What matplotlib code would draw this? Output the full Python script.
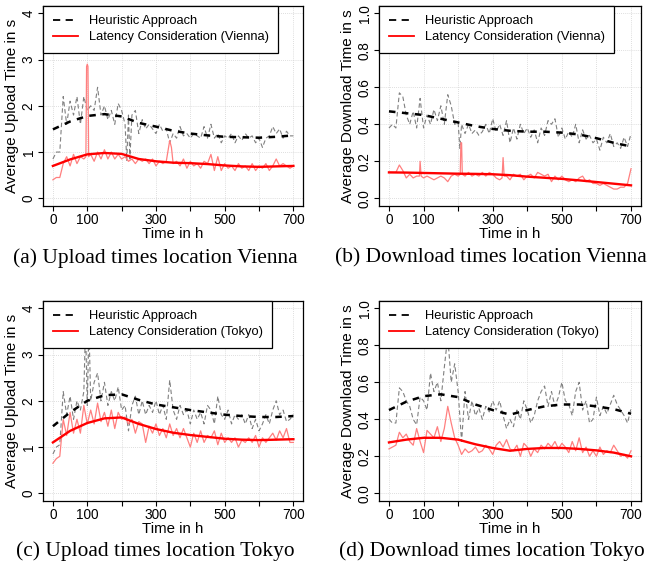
import matplotlib
matplotlib.use("Agg")
import matplotlib.pyplot as plt
from matplotlib.lines import Line2D
import numpy as np

plt.rcParams['font.family'] = ['Liberation Sans', 'DejaVu Sans']

# ---------------- data ----------------
hours = list(range(0, 701, 10))
smooth_hours = list(range(0, 701, 50))

# (a) upload Vienna
a_heur = [0.85, 1.0, 1.0, 2.2, 1.6, 2.1, 1.8, 2.2, 1.6, 2.2, 1.9, 2.0, 1.9, 2.4, 1.8, 2.0, 1.7, 1.9, 1.6, 2.05,
          1.9, 1.6, 1.8, 1.8, 1.9, 1.4, 1.7, 1.5, 1.6, 1.5, 1.4, 1.6, 1.45, 1.5, 1.2, 1.4, 1.3, 1.55, 1.35, 1.4,
          1.3, 1.4, 1.35, 1.3, 1.55, 1.3, 1.6, 1.3, 1.4, 1.2, 1.35, 1.3, 1.4, 1.2, 1.35, 1.25, 1.4, 1.3, 1.35, 1.2,
          1.3, 1.1, 1.3, 1.35, 1.55, 1.4, 1.5, 1.3, 1.45, 1.35, 1.35]
a_heur_extra_t = [215, 224]
a_heur_extra_v = [0.82, 0.85]
a_lat = [0.4, 0.45, 0.45, 0.75, 0.9, 0.7, 0.95, 0.75, 0.9, 0.85, 2.9, 0.95, 0.8, 1.0, 0.85, 1.05, 0.85, 1.0, 0.85, 0.95,
         0.85, 0.9, 0.8, 0.85, 0.75, 0.85, 0.8, 0.85, 0.75, 0.85, 0.7, 0.8, 0.75, 0.8, 1.25, 0.75, 0.8, 0.7, 0.85, 0.65,
         0.8, 0.7, 0.75, 0.65, 0.8, 0.75, 0.95, 0.6, 0.9, 0.6, 0.75, 0.65, 0.7, 0.6, 0.75, 0.65, 0.7, 0.6, 0.75, 0.6,
         0.7, 0.65, 0.75, 0.6, 0.7, 0.85, 0.7, 0.75, 0.7, 0.65, 0.7]
a_lat_extra_t = [96, 98, 102, 104, 345]
a_lat_extra_v = [0.9, 2.85, 2.85, 0.9, 1.1]
a_heur_smooth = [1.49, 1.66, 1.78, 1.82, 1.77, 1.63, 1.55, 1.46, 1.40, 1.36, 1.33, 1.32, 1.31, 1.33, 1.36]
a_lat_smooth = [0.70, 0.84, 0.95, 0.98, 0.96, 0.85, 0.80, 0.77, 0.76, 0.74, 0.71, 0.69, 0.68, 0.69, 0.70]

# (b) download Vienna
b_heur = [0.38, 0.40, 0.38, 0.57, 0.55, 0.45, 0.40, 0.47, 0.38, 0.54, 0.38, 0.45, 0.40, 0.48, 0.42, 0.50, 0.40, 0.56, 0.50, 0.40,
          0.41, 0.40, 0.35, 0.40, 0.35, 0.37, 0.34, 0.36, 0.40, 0.35, 0.43, 0.36, 0.40, 0.34, 0.42, 0.30, 0.38, 0.32, 0.40, 0.35,
          0.38, 0.33, 0.37, 0.30, 0.38, 0.34, 0.42, 0.40, 0.43, 0.33, 0.38, 0.32, 0.36, 0.33, 0.40, 0.30, 0.37, 0.32, 0.34, 0.30,
          0.32, 0.26, 0.33, 0.30, 0.35, 0.28, 0.30, 0.27, 0.33, 0.28, 0.35]
b_heur_extra_t = [205]
b_heur_extra_v = [0.27]
b_lat = [0.14, 0.14, 0.14, 0.18, 0.15, 0.11, 0.13, 0.11, 0.12, 0.20, 0.11, 0.12, 0.11, 0.10, 0.11, 0.12, 0.11, 0.09, 0.12, 0.13,
         0.12, 0.30, 0.12, 0.14, 0.12, 0.13, 0.12, 0.14, 0.12, 0.14, 0.13, 0.11, 0.10, 0.22, 0.12, 0.10, 0.13, 0.12, 0.13, 0.10,
         0.12, 0.13, 0.11, 0.14, 0.13, 0.12, 0.13, 0.09, 0.12, 0.10, 0.12, 0.10, 0.09, 0.10, 0.09, 0.11, 0.12, 0.09, 0.10, 0.08,
         0.08, 0.07, 0.08, 0.07, 0.06, 0.05, 0.05, 0.06, 0.06, 0.08, 0.16]
b_lat_extra_t = [88, 93, 206, 208, 212, 327, 333]
b_lat_extra_v = [0.12, 0.12, 0.13, 0.30, 0.13, 0.11, 0.12]
b_heur_smooth = [0.47, 0.46, 0.45, 0.43, 0.41, 0.39, 0.375, 0.365, 0.36, 0.36, 0.355, 0.345, 0.325, 0.30, 0.28]
b_lat_smooth = [0.14, 0.139, 0.137, 0.135, 0.133, 0.132, 0.13, 0.125, 0.117, 0.111, 0.105, 0.097, 0.088, 0.079, 0.07]

# (c) upload Tokyo
c_heur = [0.85, 1.0, 1.05, 2.2, 1.7, 2.1, 1.6, 2.0, 1.8, 2.2, 1.9, 2.0, 2.4, 2.6, 2.0, 2.4, 1.9, 2.2, 2.0, 2.3,
          1.8, 1.9, 1.35, 1.9, 2.1, 1.7, 2.0, 1.7, 1.9, 1.75, 2.0, 1.7, 1.9, 1.6, 2.45, 1.8, 1.6, 1.9, 1.7, 1.8,
          1.5, 1.8, 1.6, 1.75, 1.5, 1.9, 1.8, 1.5, 2.1, 1.7, 1.6, 1.8, 1.5, 1.7, 1.6, 1.7, 1.5, 1.7, 1.4, 1.6,
          1.35, 1.5, 1.7, 1.5, 1.8, 2.0, 1.7, 1.8, 1.55, 1.6, 1.7]
c_heur_extra_t = [95, 105]
c_heur_extra_v = [3.6, 3.6]
c_lat = [0.65, 0.75, 0.8, 1.6, 1.25, 1.75, 1.3, 1.6, 1.3, 1.9, 1.5, 1.8, 1.5, 1.95, 1.55, 1.75, 1.45, 1.8, 1.4, 1.75,
         1.6, 1.65, 1.5, 1.6, 1.3, 1.55, 1.5, 1.1, 1.45, 1.3, 1.5, 1.25, 1.4, 1.2, 1.5, 1.25, 1.4, 1.2, 1.4, 1.2,
         1.0, 1.3, 1.1, 1.35, 1.1, 1.25, 1.2, 1.35, 1.05, 1.3, 1.1, 1.2, 1.1, 1.2, 1.0, 1.15, 1.1, 1.2, 1.1, 1.25,
         1.0, 1.2, 1.1, 1.2, 1.3, 1.15, 1.35, 1.2, 1.4, 1.1, 1.1]
c_lat_extra_t = []
c_lat_extra_v = []
c_heur_smooth = [1.45, 1.75, 2.0, 2.12, 2.14, 2.02, 1.92, 1.86, 1.80, 1.75, 1.70, 1.67, 1.65, 1.65, 1.67]
c_lat_smooth = [1.10, 1.35, 1.52, 1.62, 1.64, 1.50, 1.39, 1.31, 1.26, 1.22, 1.18, 1.16, 1.15, 1.16, 1.17]

# (d) download Tokyo
d_heur = [0.40, 0.38, 0.38, 0.57, 0.55, 0.50, 0.47, 0.40, 0.37, 0.52, 0.50, 0.45, 0.65, 0.55, 0.60, 0.50, 0.68, 0.85, 0.60, 0.70,
          0.55, 0.28, 0.55, 0.40, 0.50, 0.42, 0.46, 0.40, 0.47, 0.44, 0.50, 0.45, 0.50, 0.42, 0.35, 0.40, 0.36, 0.45, 0.40, 0.50,
          0.45, 0.38, 0.42, 0.50, 0.55, 0.58, 0.47, 0.55, 0.47, 0.52, 0.60, 0.50, 0.48, 0.42, 0.55, 0.60, 0.45, 0.50, 0.38, 0.40,
          0.52, 0.42, 0.47, 0.43, 0.48, 0.53, 0.48, 0.45, 0.42, 0.38, 0.46]
d_heur_extra_t = []
d_heur_extra_v = []
d_lat = [0.24, 0.25, 0.26, 0.33, 0.30, 0.32, 0.28, 0.26, 0.35, 0.28, 0.22, 0.34, 0.32, 0.30, 0.36, 0.28, 0.35, 0.47, 0.38, 0.30,
         0.26, 0.21, 0.24, 0.22, 0.23, 0.25, 0.22, 0.23, 0.26, 0.24, 0.21, 0.26, 0.28, 0.25, 0.29, 0.24, 0.23, 0.26, 0.20, 0.27,
         0.25, 0.20, 0.24, 0.22, 0.26, 0.24, 0.27, 0.25, 0.28, 0.24, 0.27, 0.25, 0.22, 0.28, 0.23, 0.30, 0.22, 0.25, 0.20, 0.23,
         0.20, 0.25, 0.21, 0.23, 0.22, 0.26, 0.23, 0.20, 0.21, 0.19, 0.23]
d_lat_extra_t = []
d_lat_extra_v = []
d_heur_smooth = [0.45, 0.495, 0.525, 0.535, 0.52, 0.48, 0.45, 0.425, 0.45, 0.47, 0.48, 0.48, 0.47, 0.455, 0.43]
d_lat_smooth = [0.275, 0.29, 0.30, 0.30, 0.29, 0.265, 0.245, 0.23, 0.24, 0.245, 0.245, 0.24, 0.232, 0.22, 0.20]

x_ticks = [0, 100, 200, 300, 400, 500, 600, 700]
x_tick_labels = ['0', '100', '', '300', '', '500', '', '700']
up_ticks = [0, 1, 2, 3, 4]
up_tick_labels = ['0', '1', '2', '3', '4']
down_ticks = [0.0, 0.2, 0.4, 0.6, 0.8, 1.0]
down_tick_labels = ['0.0', '0.2', '0.4', '0.6', '0.8', '1.0']

captions = ['(a) Upload times location Vienna', '(b) Download times location Vienna',
            '(c) Upload times location Tokyo', '(d) Download times location Tokyo']
legend_labels = [['Heuristic Approach', 'Latency Consideration (Vienna)'],
                 ['Heuristic Approach', 'Latency Consideration (Vienna)'],
                 ['Heuristic Approach', 'Latency Consideration (Tokyo)'],
                 ['Heuristic Approach', 'Latency Consideration (Tokyo)']]
ylabels = ['Average Upload Time in s', 'Average Download Time in s',
           'Average Upload Time in s', 'Average Download Time in s']
xlabel = 'Time in h'

# ---------------- figure ----------------
W, H = 652, 565
fig = plt.figure(figsize=(W / 100, H / 100), dpi=100)


def rect(l, r, t, b):
    return [l / W, 1 - b / H, (r - l) / W, (b - t) / H]


rects = [rect(43.3, 303, 5.9, 205.7), rect(379.3, 640.7, 5.9, 205.7),
         rect(43.3, 303, 300.9, 500.7), rect(379.3, 640.7, 300.9, 500.7)]


def merged(base, et, ev):
    t = list(hours) + list(et)
    v = list(base) + list(ev)
    order = np.argsort(t, kind='stable')
    return np.array(t)[order], np.array(v)[order]


panels = [
    (a_heur, a_heur_extra_t, a_heur_extra_v, a_lat, a_lat_extra_t, a_lat_extra_v, a_heur_smooth, a_lat_smooth, 'up'),
    (b_heur, b_heur_extra_t, b_heur_extra_v, b_lat, b_lat_extra_t, b_lat_extra_v, b_heur_smooth, b_lat_smooth, 'down'),
    (c_heur, c_heur_extra_t, c_heur_extra_v, c_lat, c_lat_extra_t, c_lat_extra_v, c_heur_smooth, c_lat_smooth, 'up'),
    (d_heur, d_heur_extra_t, d_heur_extra_v, d_lat, d_lat_extra_t, d_lat_extra_v, d_heur_smooth, d_lat_smooth, 'down'),
]

for i, (hv, ht_e, hv_e, lv, lt_e, lv_e, hs, ls, kind) in enumerate(panels):
    ax = fig.add_axes(rects[i])
    ax.set_xlim(-28, 728)
    if kind == 'up':
        ax.set_ylim(-0.16, 4.16)
        ax.set_yticks(up_ticks)
        ax.set_yticklabels(up_tick_labels)
    else:
        ax.set_ylim(-0.04, 1.04)
        ax.set_yticks(down_ticks)
        ax.set_yticklabels(down_tick_labels)
    ax.set_xticks(x_ticks)
    ax.set_xticklabels(x_tick_labels)
    ax.grid(True, color='#d3d3d3', linestyle=(0, (1, 1.5)), linewidth=0.6)
    ax.set_axisbelow(True)

    t1, v1 = merged(hv, ht_e, hv_e)
    t2, v2 = merged(lv, lt_e, lv_e)
    ax.plot(t1, v1, color='#808080', lw=0.8, linestyle=(0, (4, 2.5)), zorder=2)
    ax.plot(t2, v2, color='#ff7f7f', lw=0.9, zorder=2)
    ax.plot(smooth_hours, hs, color='black', lw=1.8, linestyle=(0, (2.6, 2.6)), zorder=3)
    ax.plot(smooth_hours, ls, color='#ff0000', lw=1.7, zorder=3)

    for s in ax.spines.values():
        s.set_linewidth(0.9)
    ax.tick_params(axis='both', direction='out', length=3.6, width=0.8, labelsize=9.8, colors='black')
    ax.tick_params(axis='x', pad=1.5)
    ax.tick_params(axis='y', pad=2.0)
    for lbl in ax.get_yticklabels():
        lbl.set_rotation(90)
        lbl.set_va('center')
    ax.set_xlabel(xlabel, fontsize=10.8, labelpad=0.5)
    ax.set_ylabel(ylabels[i], fontsize=11, labelpad=2)

    handles = [Line2D([], [], color='black', lw=1.3, linestyle=(0, (4, 3))),
               Line2D([], [], color='#ff0000', lw=1.3)]
    leg = ax.legend(handles, legend_labels[i], loc='upper left', borderaxespad=0, fancybox=False,
                    frameon=True, framealpha=1, edgecolor='black', fontsize=9.3,
                    handlelength=2.0, handletextpad=0.8, labelspacing=0.32, borderpad=0.72)
    leg.get_frame().set_linewidth(0.9)
    leg.set_zorder(10)

cap_pos = [(155, 258), (491, 258), (155, 551), (492, 551)]
for (cx, cy), txt in zip(cap_pos, captions):
    fig.text(cx / W, 1 - cy / H, txt, ha='center', va='center', fontsize=15.4, family='Liberation Serif')

fig.savefig('out.png', dpi=100)
